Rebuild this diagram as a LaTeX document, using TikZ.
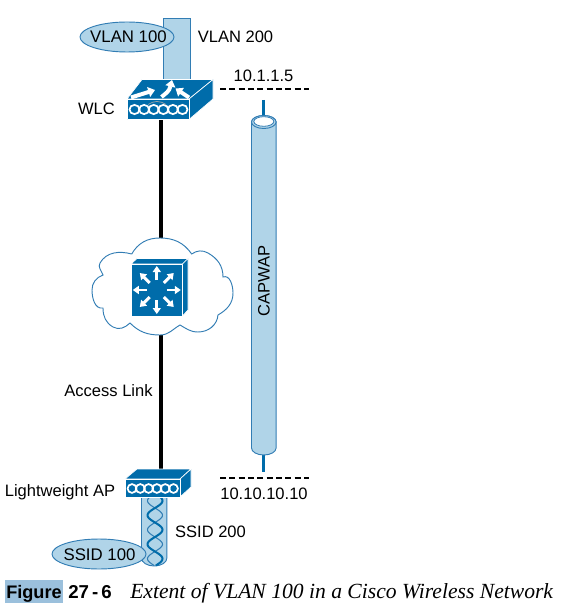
\documentclass[tikz,border=0pt]{standalone}
\usepackage{fontspec}
\setmainfont{Liberation Sans}
\newfontfamily\capfont{Liberation Serif}
\usetikzlibrary{arrows.meta,shapes.geometric}
\definecolor{ciscoblue}{RGB}{0,108,170}
\definecolor{tubeblue}{RGB}{176,212,232}
\definecolor{edgeblue}{RGB}{50,125,180}
\definecolor{capblue}{RGB}{155,192,220}
\tikzset{
    lbl/.style={font=\fontsize{12.4}{14}\selectfont, text=black, inner sep=0pt},
    face/.style={fill=ciscoblue, draw=white, line width=0.5pt, line join=round},
    tube/.style={fill=tubeblue, draw=edgeblue, line width=0.7pt},
    tag/.style={ellipse, fill=tubeblue, draw=edgeblue, line width=0.7pt, minimum width=70.5pt, minimum height=22.5pt, inner sep=0pt},
    tagtext/.style={lbl, font=\fontsize{12.6}{14}\selectfont},
    link/.style={draw=black, line width=2.4pt},
    bound/.style={draw=black, line width=2.2pt, dash pattern=on 4.6pt off 2.4pt},
    stub/.style={draw=ciscoblue, line width=2.6pt},
    ring/.style={draw=white, line width=1.3pt},
    flash/.style={draw=white, line width=2.2pt, -{Triangle[width=6pt,length=4.5pt]}},
    bigflash/.style={draw=white, line width=3pt, -{Triangle[width=7.5pt,length=5pt]}}
}
\begin{document}
\begin{tikzpicture}[x=0.75pt,y=-0.75pt]
    \useasboundingbox (0,0) rectangle (576,609);
    % link behind the cloud
    \coordinate (wlcport) at (161,119);
    \coordinate (apport) at (161,469);
    \draw[link] (wlcport) -- (apport);
    % VLAN 200 trunk
    \draw[tube] (163,79) -- (163,18) -- (190.5,18) -- (190.5,79);
    \node[tag] (vlanone) at (127,37) {};
    \node[tagtext] (vlanonetext) at (128.5,37) {VLAN 100};
    \node[lbl] (vlantwo) at (235.5,37) {VLAN 200};
    % WLC
    \draw[face] (127,99) -- (142,79.5) -- (213,79.5) -- (189,99) -- cycle;
    \draw[face] (189,99) -- (213,79.5) -- (213,99) -- (189,119.5) -- cycle;
    \node[face, minimum width=46.5pt, minimum height=15.4pt, inner sep=0pt] (wlc) at (158,109.5) {};
    \foreach \i in {0,...,5} {
        \draw[ring] (134.5+\i*9.6,109.5) ellipse (5 and 4.6);
    }
    \draw[gray!70, line width=0.5pt] (148,104.5) .. controls (154,100.5) and (160,100.5) .. (166,104.5);
    \draw[bigflash] (161.5,97) .. controls (166,93) and (169,92) .. (172,80);
    \draw[bigflash] (131,97.5) -- (155,90);
    \draw[bigflash] (189,97.5) -- (175.5,88.5);
    \node[lbl] (wlclabel) at (96.5,109) {WLC};
    % addresses
    \coordinate (upleft) at (220,89);
    \coordinate (upright) at (309,89);
    \draw[bound] (upleft) -- (upright);
    \node[lbl] (addrtop) at (263.5,76) {10.1.1.5};
    \coordinate (lowleft) at (220,478);
    \coordinate (lowright) at (309,478);
    \draw[bound] (lowleft) -- (lowright);
    \node[lbl] (addrlow) at (264,494) {10.10.10.10};
    % CAPWAP tunnel
    \coordinate (captop) at (263.5,100);
    \coordinate (capbot) at (263.5,472);
    \draw[stub] (captop) -- (capbot);
    \draw[tube] (251.5,122) -- (251.5,448) arc[start angle=180, end angle=0, x radius=12.3, y radius=7] -- (276.1,122) arc[start angle=0, end angle=-180, x radius=12.3, y radius=6.5];
    \draw[tube] (263.8,122) ellipse (12.3 and 6.5);
    \draw[fill=white, draw=edgeblue, line width=0.6pt] (263.8,121.5) ellipse (10 and 4.8);
    \node[lbl, rotate=90] (capwap) at (264,281) {CAPWAP};
    % cloud
    \draw[fill=white, draw=edgeblue, line width=0.7pt]
        (131.7,254) to[out=60,in=180] (160,238) to[out=0,in=125] (191.7,254)
        to[out=35,in=150] (208,253) to[out=-30,in=90] (223,277)
        to[out=20,in=90] (233,293) to[out=-90,in=30] (218,315)
        to[out=-95,in=0] (198,332) to[out=180,in=-30] (180,325)
        to[out=-150,in=0] (160,335) to[out=180,in=-45] (130,323)
        to[out=-135,in=-30] (113,327) to[out=150,in=-90] (103,308)
        to[out=-170,in=-90] (92,290) to[out=90,in=-160] (103,275)
        to[out=110,in=-120] (100,263) to[out=60,in=165] (131.7,254);
    % switch in the cloud
    \draw[face] (131,264) -- (137,258.5) -- (188,258.5) -- (182.5,264) -- cycle;
    \draw[face] (182.5,264) -- (188,258.5) -- (188,310) -- (182.5,316) -- cycle;
    \node[face, minimum width=38.8pt, minimum height=39pt, inner sep=0pt] (switch) at (156.8,290) {};
    \foreach \a in {0,45,...,315} {
        \draw[flash] (156.8,290) ++(\a:10) -- ++(\a:14);
    }
    % AP and SSID 200
    \draw[tube] (141.5,497) -- (141.5,558) arc[start angle=180, end angle=0, x radius=12.7, y radius=8] -- (166.9,497);
    \draw[edgeblue, line width=0.8pt] plot[domain=497:565.5, samples=70] ({155+7.5*sin((\x-508)*180/14.5)}, \x);
    \draw[ciscoblue, line width=1.5pt] plot[domain=497:565.5, samples=70] ({155-7.5*sin((\x-508)*180/14.5)}, \x);
    \node[tag] (ssidone) at (99,554) {};
    \node[tagtext] (ssidonetext) at (99.5,555) {SSID 100};
    \node[lbl] (ssidtwo) at (210.5,532) {SSID 200};
    \draw[face] (125,479) -- (137,469) -- (191,469) -- (180,479) -- cycle;
    \draw[face] (180,479) -- (191,469) -- (191,487) -- (180,497) -- cycle;
    \node[face, minimum width=41.2pt, minimum height=13.5pt, inner sep=0pt] (ap) at (152.5,488) {};
    \foreach \i in {0,...,5} {
        \draw[ring] (132+\i*8.3,488.5) ellipse (4.4 and 4.4);
    }
    \node[lbl] (aplabel) at (60,492) {Lightweight AP};
    \node[lbl] (access) at (108.5,391) {Access Link};
    % caption
    \fill[capblue] (5,580) rectangle (63,603);
    \node[anchor=base west, inner sep=0pt, font=\bfseries\fontsize{13.6}{16}\selectfont] (figlabel) at (6,598) {Figure};
    \node[anchor=base west, inner sep=0pt, font=\bfseries\fontsize{14}{16}\selectfont] (fignum) at (68,598) {27\,-\,6};
    \node[anchor=base west, inner sep=0pt, font=\capfont\itshape\fontsize{16.2}{19}\selectfont] (figtext) at (130,598) {Extent of VLAN 100 in a Cisco Wireless Network};
\end{tikzpicture}
\end{document}
